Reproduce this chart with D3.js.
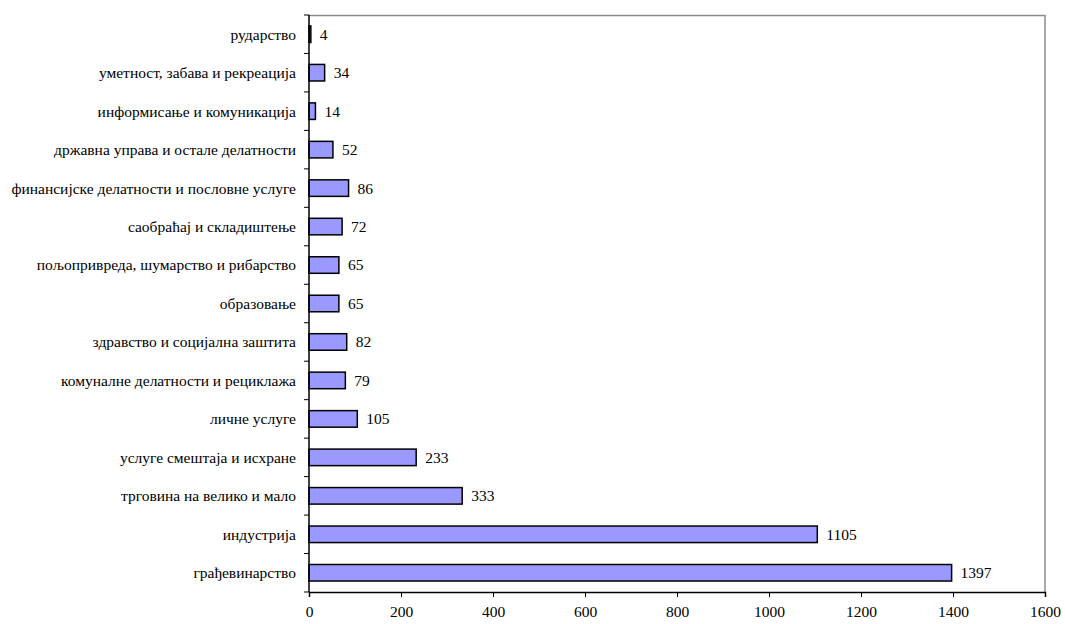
<!DOCTYPE html>
<html>
<head>
<meta charset="utf-8">
<script src="https://cdn.jsdelivr.net/npm/d3@7"></script>
</head>
<body style="margin:0">
<script>
// Categories, top to bottom
const categories = [
    "рударство",
    "уметност, забава и рекреација",
    "информисање и комуникација",
    "државна управа и остале делатности",
    "финансијске делатности и пословне услуге",
    "саобраћај и складиштење",
    "пољопривреда, шумарство и рибарство",
    "образовање",
    "здравство и социјална заштита",
    "комуналне делатности и рециклажа",
    "личне услуге",
    "услуге смештаја  и исхране",
    "трговина на велико и мало",
    "индустрија",
    "грађевинарство"
];
const values = [4, 34, 14, 52, 86, 72, 65, 65, 82, 79, 105, 233, 333, 1105, 1397];
const xTicks = [0, 200, 400, 600, 800, 1000, 1200, 1400, 1600];

const data = categories.map((c, i) => ({name: c, value: values[i]}));

const FONT = "Liberation Serif";

// Setting dimensions
const margin = {top: 15, right: 20, bottom: 32, left: 309},
    width = 1065 - margin.left - margin.right,
    height = 624 - margin.top - margin.bottom;

const xScale = d3.scaleLinear()
    .domain([0, 1600])
    .range([0, width]);

const yScale = d3.scaleBand()
    .domain(categories)
    .range([0, height])
    .paddingInner(0.57)
    .paddingOuter(0.285);

const svg = d3.select("body").append("svg")
    .attr("width", 1065)
    .attr("height", 624)
    .append("g")
    .attr("transform", "translate(" + margin.left + "," + margin.top + ")");

// Gray frame on top and right
svg.append("path")
    .attr("d", `M0,0.5H${width}V${height}`)
    .attr("fill", "none")
    .attr("stroke", "#8c8c8c")
    .attr("stroke-width", 1.5);

// Bars
svg.selectAll(".bar")
    .data(data)
    .enter().append("rect")
    .attr("x", 0)
    .attr("y", d => yScale(d.name))
    .attr("width", d => xScale(d.value))
    .attr("height", yScale.bandwidth())
    .attr("fill", "#9999ff")
    .attr("stroke", "#000")
    .attr("stroke-width", 1.5);

// Value labels
svg.selectAll(".val")
    .data(data)
    .enter().append("text")
    .attr("x", d => xScale(d.value) + 9)
    .attr("y", d => yScale(d.name) + yScale.bandwidth() / 2)
    .attr("dy", "0.35em")
    .attr("font-family", FONT)
    .attr("font-size", 15.5)
    .text(d => d.value);

// X axis
const xAxis = svg.append("g")
    .attr("transform", "translate(0," + height + ")")
    .call(d3.axisBottom(xScale).tickValues(xTicks).tickSize(5).tickPadding(9).tickFormat(d3.format("d")));
xAxis.selectAll("text")
    .attr("font-family", FONT)
    .attr("font-size", 15.5);
xAxis.select(".domain").attr("stroke-width", 1.5);

// Y axis: ticks on band boundaries
const yAxis = svg.append("g");
yAxis.append("line")
    .attr("x1", 0).attr("x2", 0)
    .attr("y1", 0).attr("y2", height)
    .attr("stroke", "#000").attr("stroke-width", 1.5);
const step = yScale.step();
yAxis.selectAll(".tick")
    .data(d3.range(categories.length + 1))
    .enter().append("line")
    .attr("x1", -5).attr("x2", 0)
    .attr("y1", i => i * step).attr("y2", i => i * step)
    .attr("stroke", "#000");
yAxis.selectAll(".lbl")
    .data(data)
    .enter().append("text")
    .attr("x", -13)
    .attr("y", d => yScale(d.name) + yScale.bandwidth() / 2)
    .attr("dy", "0.35em")
    .attr("text-anchor", "end")
    .attr("font-family", FONT)
    .attr("font-size", 15.5)
    .text(d => d.name);
</script>
</body>
</html>
